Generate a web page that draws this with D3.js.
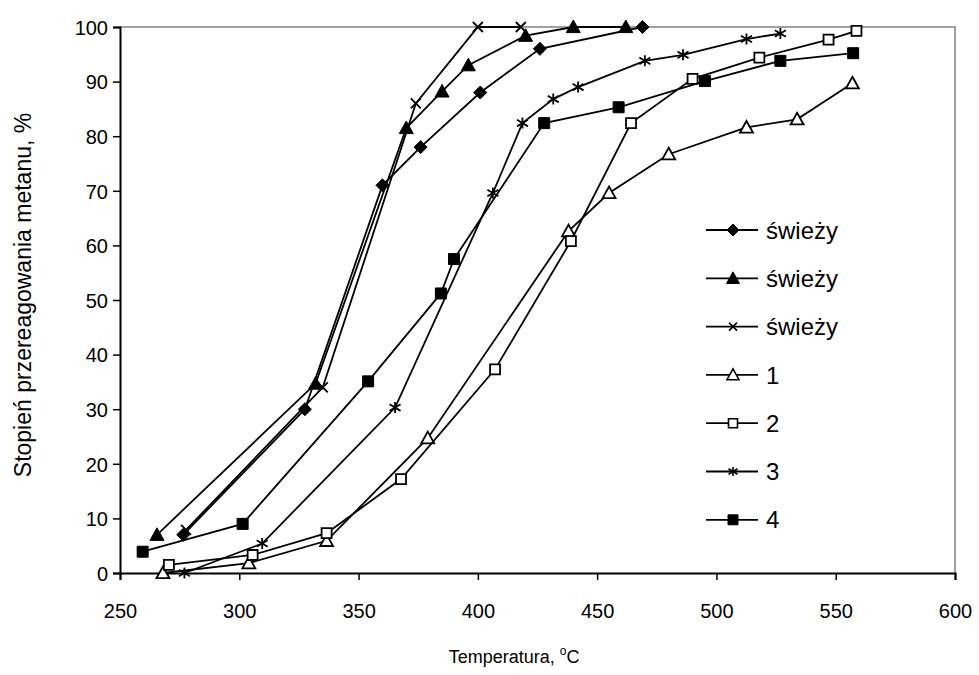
<!DOCTYPE html>
<html>
  <head>
    <meta charset="utf-8" />
    <title>Stopień przereagowania metanu</title>
    <style>
      body {
        margin: 0;
        background: #fff;
      }
      svg text {
        font-family: "Liberation Sans", Arial, sans-serif;
      }
    </style>
    <script src="https://cdn.jsdelivr.net/npm/d3@7"></script>
  </head>
  <body>
    <div id="chart"></div>
    <script>
      // values (temperature in deg C, conversion in %)
      var freshDiamondT = [276.5, 327.5, 360, 376, 401, 426, 469];
      var freshDiamondV = [7, 30, 71, 78, 88, 96, 100];
      var freshTriangleT = [265.5, 332, 370, 385, 396, 420, 440, 462];
      var freshTriangleV = [7, 34.7, 81.5, 88.2, 93, 98.4, 100, 100];
      var freshCrossT = [277.7, 335, 374, 400, 418];
      var freshCrossV = [7.9, 34, 86, 100, 100];
      var s1T = [268, 304, 336.6, 379, 438, 455, 480, 512.6, 533.8, 557];
      var s1V = [0, 1.8, 5.9, 24.7, 62.6, 69.6, 76.7, 81.6, 83.1, 89.7];
      var s2T = [270.5, 305.6, 336.6, 367.8, 407.2, 439, 464.2, 490, 518, 547, 558.7];
      var s2V = [1.5, 3.3, 7.3, 17.2, 37.3, 60.8, 82.4, 90.5, 94.4, 97.7, 99.3];
      var s3T = [277, 309.6, 365.3, 406.3, 418.7, 431.6, 442, 470, 486, 512.6, 526.8];
      var s3V = [0, 5.4, 30.3, 69.6, 82.4, 86.8, 89, 93.8, 94.9, 97.8, 98.8];
      var s4T = [259.5, 301.4, 354, 384.5, 390, 427.8, 459, 495.2, 526.8, 557.3];
      var s4V = [3.9, 9, 35.1, 51.2, 57.5, 82.4, 85.3, 90.1, 93.8, 95.2];

      var legendLabels = ["świeży", "świeży", "świeży", "1", "2", "3", "4"];
      var xTicks = [250, 300, 350, 400, 450, 500, 550, 600];
      var yTicks = [0, 10, 20, 30, 40, 50, 60, 70, 80, 90, 100];

      var W = 979, H = 675;
      var plotL = 120, plotR = 955, plotT = 27, plotB = 573;

      var x = d3.scaleLinear().domain([250, 600]).range([plotL, plotR]);
      var y = d3.scaleLinear().domain([0, 100]).range([plotB, plotT]);

      // marker shapes, drawn round 0,0
      function markerPath(kind, s) {
        var h = s / 2;
        if (kind == "diamond") return "M0," + (-h) + "L" + h + ",0L0," + h + "L" + (-h) + ",0Z";
        if (kind == "triangle") return "M0," + (-h) + "L" + h + "," + (h * 0.8) + "L" + (-h) + "," + (h * 0.8) + "Z";
        if (kind == "square") return "M" + (-h) + "," + (-h) + "h" + s + "v" + s + "h" + (-s) + "Z";
        if (kind == "cross") return "M" + (-h) + "," + (-h) + "L" + h + "," + h + "M" + h + "," + (-h) + "L" + (-h) + "," + h;
        if (kind == "star") return "M" + (-h) + "," + (-h * 0.6) + "L" + h + "," + (h * 0.6) + "M" + h + "," + (-h * 0.6) + "L" + (-h) + "," + (h * 0.6) + "M0," + (-h) + "V" + h;
      }

      var series = [
        { t: freshDiamondT, v: freshDiamondV, kind: "diamond", fill: "#000", size: 13, lsize: 12 },
        { t: freshTriangleT, v: freshTriangleV, kind: "triangle", fill: "#000", size: 14, lsize: 13 },
        { t: freshCrossT, v: freshCrossV, kind: "cross", fill: "none", size: 10, lsize: 8 },
        { t: s1T, v: s1V, kind: "triangle", fill: "#fff", size: 13, lsize: 12 },
        { t: s2T, v: s2V, kind: "square", fill: "#fff", size: 10, lsize: 9 },
        { t: s3T, v: s3V, kind: "star", fill: "none", size: 11, lsize: 9 },
        { t: s4T, v: s4V, kind: "square", fill: "#000", size: 11, lsize: 10 }
      ];

      var svg = d3.select("#chart").append("svg")
        .attr("width", W)
        .attr("height", H);

      // grey frame on top and right
      svg.append("path")
        .attr("d", "M" + plotL + "," + plotT + "H" + plotR + "V" + plotB)
        .attr("fill", "none")
        .attr("stroke", "#a0a0a0")
        .attr("stroke-width", 2);

      var xAxis = svg.append("g")
        .attr("transform", "translate(0," + plotB + ")")
        .call(d3.axisBottom(x).tickValues(xTicks).tickSize(7).tickPadding(24).tickFormat(d3.format("d")));
      var yAxis = svg.append("g")
        .attr("transform", "translate(" + plotL + ",0)")
        .call(d3.axisLeft(y).tickValues(yTicks).tickSize(7).tickPadding(5).tickFormat(d3.format("d")));

      [xAxis, yAxis].forEach(function(a) {
        a.select(".domain").attr("stroke", "#000").attr("stroke-width", 2);
        a.selectAll(".tick line").attr("stroke", "#000").attr("stroke-width", 1.5);
        a.selectAll(".tick text").attr("fill", "#000").style("font-size", "20px");
      });
      yAxis.selectAll(".tick text").attr("dy", "0.36em");

      var line = d3.line()
        .x(function(d) { return x(d[0]); })
        .y(function(d) { return y(d[1]); });

      series.forEach(function(s) {
        var pts = d3.zip(s.t, s.v);
        svg.append("path")
          .datum(pts)
          .attr("d", line)
          .attr("fill", "none")
          .attr("stroke", "#000")
          .attr("stroke-width", 1.8);
        svg.append("g").selectAll("path")
          .data(pts)
          .enter().append("path")
          .attr("transform", function(d) { return "translate(" + x(d[0]) + "," + y(d[1]) + ")"; })
          .attr("d", markerPath(s.kind, s.size))
          .attr("fill", s.fill)
          .attr("stroke", "#000")
          .attr("stroke-width", s.fill == "#000" ? 1 : 1.8);
      });

      // legend
      var legend = svg.append("g").attr("transform", "translate(706,230)");
      series.forEach(function(s, i) {
        var row = legend.append("g").attr("transform", "translate(0," + (i * 48.3) + ")");
        row.append("line").attr("x1", 0).attr("x2", 52).attr("stroke", "#000").attr("stroke-width", 1.8);
        row.append("path")
          .attr("transform", "translate(27,0)")
          .attr("d", markerPath(s.kind, s.lsize))
          .attr("fill", s.fill)
          .attr("stroke", "#000")
          .attr("stroke-width", s.fill == "#000" ? 1 : 1.6);
        row.append("text")
          .attr("x", 60)
          .attr("dy", "0.36em")
          .style("font-size", "24px")
          .text(legendLabels[i]);
      });

      // axis titles
      var xt = svg.append("text")
        .attr("x", 514)
        .attr("y", 663)
        .attr("text-anchor", "middle")
        .style("font-size", "18px");
      xt.append("tspan").text("Temperatura, ");
      xt.append("tspan").attr("dy", -8).style("font-size", "12px").text("o");
      xt.append("tspan").attr("dy", 8).text("C");

      svg.append("text")
        .attr("transform", "translate(31,295) rotate(-90)")
        .attr("text-anchor", "middle")
        .style("font-size", "23px")
        .text("Stopień przereagowania metanu, %");
    </script>
  </body>
</html>
